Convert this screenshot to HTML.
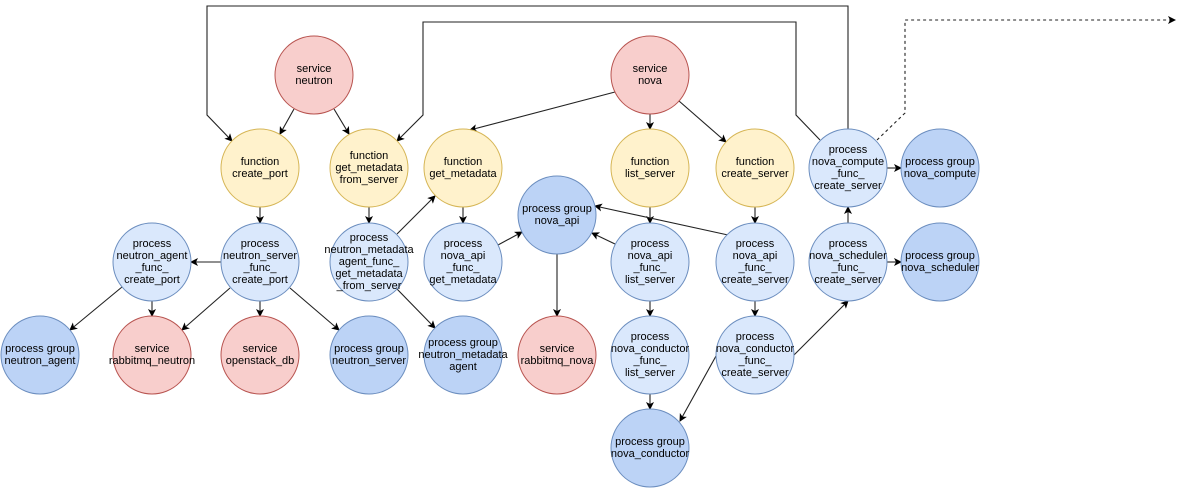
<!DOCTYPE html>
<html><head><meta charset="utf-8"><style>
html,body{margin:0;padding:0;background:#fff;}
svg{display:block;}
text{font-family:"Liberation Sans",Arial,sans-serif;font-size:11px;fill:#000;text-anchor:middle;}
.e{stroke:#222;stroke-width:1.1;fill:none;marker-end:url(#a);}
.r{fill:#f8cecc;stroke:#b85450;}
.y{fill:#fff2cc;stroke:#d6b656;}
.b{fill:#dae8fc;stroke:#6c8ebf;}
.g{fill:#bcd3f6;stroke:#6c8ebf;}
</style></head><body>
<svg width="1200" height="496" viewBox="0 0 1200 496">
<defs><marker id="a" markerWidth="8" markerHeight="8" refX="7" refY="4" orient="auto" markerUnits="userSpaceOnUse"><path d="M0,0 L8,4 L0,8 L2,4 z" fill="#000"/></marker></defs>
<path class="e" d="M848,130 L848,6 L207,6 L207,115 L232,141"/>
<path class="e" d="M820,140 L796,115 L796,22 L423,22 L423,115 L397,141"/>
<path class="e" d="M877,140 L905,113 L905,20 L1175,20" stroke-dasharray="3,3"/>
<path class="e" d="M294,109 L280,134"/>
<path class="e" d="M334,109 L349,134"/>
<path class="e" d="M615,92 L470,130"/>
<path class="e" d="M650,114 L650,129"/>
<path class="e" d="M679,101 L726,142"/>
<path class="e" d="M260,207 L260,223"/>
<path class="e" d="M369,207 L369,223"/>
<path class="e" d="M463,207 L463,223"/>
<path class="e" d="M650,207 L650,223"/>
<path class="e" d="M755,207 L755,223"/>
<path class="e" d="M221,262 L191,262"/>
<path class="e" d="M230,288 L182,330"/>
<path class="e" d="M260,301 L260,316"/>
<path class="e" d="M290,288 L339,330"/>
<path class="e" d="M122,287 L70,330"/>
<path class="e" d="M152,301 L152,316"/>
<path class="e" d="M397,234 L435,196"/>
<path class="e" d="M397,289 L435,328"/>
<path class="e" d="M498,245 L522,232"/>
<path class="e" d="M615,244 L592,233"/>
<path class="e" d="M728,235 L595,206"/>
<path class="e" d="M557,254 L557,316"/>
<path class="e" d="M650,301 L650,316"/>
<path class="e" d="M755,301 L755,316"/>
<path class="e" d="M650,394 L650,409"/>
<path class="e" d="M716,356 L680,421"/>
<path class="e" d="M794,355 L848,301"/>
<path class="e" d="M848,223 L848,207"/>
<path class="e" d="M887,262 L901,262"/>
<path class="e" d="M887,168 L901,168"/>
<g>
<circle class="r" cx="314" cy="75" r="39"/><text x="314" y="72">service</text><text x="314" y="84">neutron</text>
<circle class="r" cx="650" cy="75" r="39"/><text x="650" y="72">service</text><text x="650" y="84">nova</text>

<circle class="y" cx="260" cy="168" r="39"/><text x="260" y="165">function</text><text x="260" y="177">create_port</text>
<circle class="y" cx="369" cy="168" r="39"/><text x="369" y="159">function</text><text x="369" y="171">get_metadata</text><text x="369" y="183">from_server</text>
<circle class="y" cx="463" cy="168" r="39"/><text x="463" y="165">function</text><text x="463" y="177">get_metadata</text>
<circle class="y" cx="650" cy="168" r="39"/><text x="650" y="165">function</text><text x="650" y="177">list_server</text>
<circle class="y" cx="755" cy="168" r="39"/><text x="755" y="165">function</text><text x="755" y="177">create_server</text>
<circle class="b" cx="848" cy="168" r="39"/><text x="848" y="153">process</text><text x="848" y="165">nova_compute</text><text x="848" y="177">_func_</text><text x="848" y="189">create_server</text>
<circle class="g" cx="940" cy="168" r="39"/><text x="940" y="165">process group</text><text x="940" y="177">nova_compute</text>

<circle class="g" cx="557" cy="215" r="39"/><text x="557" y="212">process group</text><text x="557" y="224">nova_api</text>

<circle class="b" cx="152" cy="262" r="39"/><text x="152" y="247">process</text><text x="152" y="259">neutron_agent</text><text x="152" y="271">_func_</text><text x="152" y="283">create_port</text>
<circle class="b" cx="260" cy="262" r="39"/><text x="260" y="247">process</text><text x="260" y="259">neutron_server</text><text x="260" y="271">_func_</text><text x="260" y="283">create_port</text>
<circle class="b" cx="369" cy="262" r="39"/><text x="369" y="241">process</text><text x="369" y="253">neutron_metadata</text><text x="369" y="265">agent_func_</text><text x="369" y="277">get_metadata</text><text x="369" y="289">_from_server</text>
<circle class="b" cx="463" cy="262" r="39"/><text x="463" y="247">process</text><text x="463" y="259">nova_api</text><text x="463" y="271">_func_</text><text x="463" y="283">get_metadata</text>
<circle class="b" cx="650" cy="262" r="39"/><text x="650" y="247">process</text><text x="650" y="259">nova_api</text><text x="650" y="271">_func_</text><text x="650" y="283">list_server</text>
<circle class="b" cx="755" cy="262" r="39"/><text x="755" y="247">process</text><text x="755" y="259">nova_api</text><text x="755" y="271">_func_</text><text x="755" y="283">create_server</text>
<circle class="b" cx="848" cy="262" r="39"/><text x="848" y="247">process</text><text x="848" y="259">nova_scheduler</text><text x="848" y="271">_func_</text><text x="848" y="283">create_server</text>
<circle class="g" cx="940" cy="262" r="39"/><text x="940" y="259">process group</text><text x="940" y="271">nova_scheduler</text>

<circle class="g" cx="40" cy="355" r="39"/><text x="40" y="352">process group</text><text x="40" y="364">neutron_agent</text>
<circle class="r" cx="152" cy="355" r="39"/><text x="152" y="352">service</text><text x="152" y="364">rabbitmq_neutron</text>
<circle class="r" cx="260" cy="355" r="39"/><text x="260" y="352">service</text><text x="260" y="364">openstack_db</text>
<circle class="g" cx="369" cy="355" r="39"/><text x="369" y="352">process group</text><text x="369" y="364">neutron_server</text>
<circle class="g" cx="463" cy="355" r="39"/><text x="463" y="346">process group</text><text x="463" y="358">neutron_metadata</text><text x="463" y="370">agent</text>
<circle class="r" cx="557" cy="355" r="39"/><text x="557" y="352">service</text><text x="557" y="364">rabbitmq_nova</text>
<circle class="b" cx="650" cy="355" r="39"/><text x="650" y="340">process</text><text x="650" y="352">nova_conductor</text><text x="650" y="364">_func_</text><text x="650" y="376">list_server</text>
<circle class="b" cx="755" cy="355" r="39"/><text x="755" y="340">process</text><text x="755" y="352">nova_conductor</text><text x="755" y="364">_func_</text><text x="755" y="376">create_server</text>

<circle class="g" cx="650" cy="448" r="39"/><text x="650" y="445">process group</text><text x="650" y="457">nova_conductor</text>
</g>
</svg>
</body></html>
